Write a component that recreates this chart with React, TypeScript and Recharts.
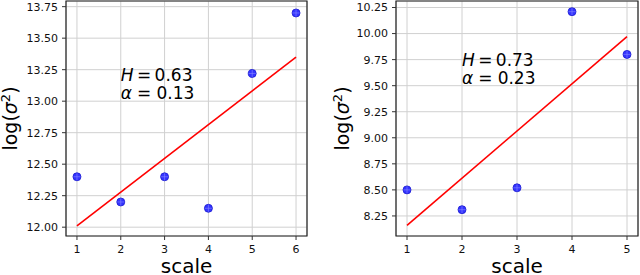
import React from 'react';
import {
  ScatterChart,
  Scatter,
  XAxis,
  YAxis,
  CartesianGrid,
  ReferenceArea,
  ReferenceDot,
} from 'recharts';

// ---- data ----
const leftScales = [1, 2, 3, 4, 5, 6];
const leftLogVar = [12.4, 12.2, 12.4, 12.15, 13.22, 13.7];
const leftFitX = [1, 6];
const leftFitY = [12.01, 13.35];
const leftXTicks = [1, 2, 3, 4, 5, 6];
const leftYTicks = [12.0, 12.25, 12.5, 12.75, 13.0, 13.25, 13.5, 13.75];
const leftH = '0.63';
const leftAlpha = '0.13';

const rightScales = [1, 2, 3, 4, 5];
const rightLogVar = [8.5, 8.31, 8.52, 10.21, 9.8];
const rightFitX = [1, 5];
const rightFitY = [8.16, 9.97];
const rightXTicks = [1, 2, 3, 4, 5];
const rightYTicks = [8.25, 8.5, 8.75, 9.0, 9.25, 9.5, 9.75, 10.0, 10.25];
const rightH = '0.73';
const rightAlpha = '0.23';

const FONT = 'DejaVu Sans, sans-serif';

const toPoints = (xs: number[], ys: number[]) => xs.map((x, i) => ({ x, y: ys[i] }));

const Marker = (props: any) => {
  const { cx, cy } = props;
  if (cx == null || cy == null) return <g />;
  return (
    <g>
      <circle cx={cx} cy={cy} r={4} fill="#3434ff" stroke="#1a1ad0" strokeWidth={0.8} />
      <line x1={cx - 3.5} y1={cy} x2={cx + 3.5} y2={cy} stroke="#8a8aff" strokeWidth={0.6} />
      <line x1={cx} y1={cy - 3.5} x2={cx} y2={cy + 3.5} stroke="#8a8aff" strokeWidth={0.6} />
    </g>
  );
};

const NoShape = () => <g />;

const YLabel = (props: any) => {
  const vb = props.viewBox || { x: 0, y: 0, width: 0, height: 0 };
  const x = props.xPos;
  const y = vb.y + vb.height / 2;
  return (
    <text
      x={x}
      y={y}
      transform={`rotate(-90, ${x}, ${y})`}
      textAnchor="middle"
      fontFamily={FONT}
      fontSize={19}
      fill="#000"
    >
      <tspan>log(</tspan>
      <tspan fontStyle="italic">σ</tspan>
      <tspan dy={-7} fontSize={13}>2</tspan>
      <tspan dy={7}>)</tspan>
    </text>
  );
};

const XLabel = (props: any) => {
  const vb = props.viewBox || { x: 0, y: 0, width: 0, height: 0 };
  return (
    <text
      x={vb.x + vb.width / 2}
      y={vb.y + 37}
      textAnchor="middle"
      fontFamily={FONT}
      fontSize={20}
      fill="#000"
    >
      scale
    </text>
  );
};

const makeAnnotation = (h: string, a: string) => (props: any) => {
  const { cx, cy } = props;
  if (cx == null || cy == null) return <g />;
  return (
    <g fontFamily={FONT} fontSize={17} fill="#000">
      <text x={cx} y={cy - 20}>
        <tspan fontStyle="italic">H</tspan>
        <tspan>{'\u2009=\u2009' + h}</tspan>
      </text>
      <text x={cx} y={cy - 2}>
        <tspan fontStyle="italic">α</tspan>
        <tspan>{'\u2009\u200a=\u2009\u200a' + a}</tspan>
      </text>
    </g>
  );
};

interface PanelProps {
  xs: number[];
  ys: number[];
  fitX: number[];
  fitY: number[];
  xTicks: number[];
  yTicks: number[];
  xDomain: [number, number];
  yDomain: [number, number];
  margin: { top: number; right: number; bottom: number; left: number };
  yAxisWidth: number;
  yLabelX: number;
  annX: number;
  annY: number;
  h: string;
  a: string;
}

const Panel = (p: PanelProps) => {
  const pts = toPoints(p.xs, p.ys);
  const fit = toPoints(p.fitX, p.fitY);
  const tickStyle = { fontFamily: FONT, fontSize: 11, fill: '#111' };
  return (
    <ScatterChart width={320} height={275} margin={p.margin}>
      <CartesianGrid stroke="#d0d0d0" strokeWidth={1} />
      <XAxis
        type="number"
        dataKey="x"
        domain={p.xDomain}
        ticks={p.xTicks}
        allowDataOverflow
        height={39}
        tickSize={4}
        tickMargin={5}
        tick={tickStyle}
        tickLine={{ stroke: '#333' }}
        axisLine={false}
        label={<XLabel />}
      />
      <YAxis
        type="number"
        dataKey="y"
        domain={p.yDomain}
        ticks={p.yTicks}
        allowDataOverflow
        width={p.yAxisWidth}
        tickSize={4}
        tickMargin={4}
        tick={tickStyle}
        tickFormatter={(v: number) => v.toFixed(2)}
        tickLine={{ stroke: '#333' }}
        axisLine={false}
        label={<YLabel xPos={p.yLabelX} />}
      />
      <ReferenceArea
        x1={p.xDomain[0]}
        x2={p.xDomain[1]}
        y1={p.yDomain[0]}
        y2={p.yDomain[1]}
        fill="none"
        stroke="#222"
        strokeWidth={1.2}
        ifOverflow="visible"
      />
      <Scatter data={pts} shape={Marker} isAnimationActive={false} />
      <Scatter
        data={fit}
        shape={NoShape}
        line={{ stroke: '#ff0000', strokeWidth: 1.6 }}
        lineType="joint"
        isAnimationActive={false}
      />
      <ReferenceDot
        x={p.annX}
        y={p.annY}
        r={0}
        ifOverflow="visible"
        shape={makeAnnotation(p.h, p.a)}
      />
    </ScatterChart>
  );
};

export default function App() {
  return (
    <div
      style={{
        position: 'absolute',
        left: 0,
        top: 0,
        width: 640,
        height: 275,
        background: '#fff',
        overflow: 'hidden',
      }}
    >
      <div style={{ position: 'absolute', left: 0, top: 0 }}>
        <Panel
          xs={leftScales}
          ys={leftLogVar}
          fitX={leftFitX}
          fitY={leftFitY}
          xTicks={leftXTicks}
          yTicks={leftYTicks}
          xDomain={[0.75, 6.25]}
          yDomain={[11.93, 13.795]}
          margin={{ top: 1, right: 13, bottom: 0, left: 10 }}
          yAxisWidth={56}
          yLabelX={17}
          annX={2}
          annY={13.0}
          h={leftH}
          a={leftAlpha}
        />
      </div>
      <div style={{ position: 'absolute', left: 320, top: 0 }}>
        <Panel
          xs={rightScales}
          ys={rightLogVar}
          fitX={rightFitX}
          fitY={rightFitY}
          xTicks={rightXTicks}
          yTicks={rightYTicks}
          xDomain={[0.8, 5.2]}
          yDomain={[8.0575, 10.3125]}
          margin={{ top: 1, right: 2, bottom: 0, left: 16 }}
          yAxisWidth={60}
          yLabelX={29}
          annX={2}
          annY={9.5}
          h={rightH}
          a={rightAlpha}
        />
      </div>
    </div>
  );
}
